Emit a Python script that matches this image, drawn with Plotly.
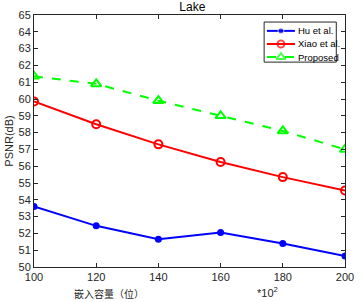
import plotly.graph_objects as go

x_vals = [100, 120, 140, 160, 180, 200]
hu = [53.6, 52.45, 51.65, 52.05, 51.4, 50.65]
xiao = [59.85, 58.5, 57.3, 56.25, 55.35, 54.55]
proposed = [61.35, 60.9, 59.9, 59.0, 58.1, 57.0]
names = ["Hu et al.", "Xiao et al.", "Proposed"]

styles = [
    dict(line=dict(color="#0000ff", width=2),
         marker=dict(symbol="circle", size=7, color="#0000ff")),
    dict(line=dict(color="#ff0000", width=2),
         marker=dict(symbol="circle-open", size=8, color="#ff0000", line=dict(width=2))),
    dict(line=dict(color="#00ff00", width=2, dash="dash"),
         marker=dict(symbol="triangle-up-open", size=9, color="#00ff00", line=dict(width=2))),
]

fig = go.Figure()
for name, ys, st in zip(names, [hu, xiao, proposed], styles):
    fig.add_trace(go.Scatter(x=x_vals, y=ys, name=name, mode="lines+markers",
                             line=st["line"], marker=st["marker"], showlegend=False))

# compact legend drawn on an overlay axis (0..1 scale over the plot area)
box_x = [0.74, 0.972, 0.972, 0.74, 0.74]
box_y = [0.813, 0.813, 0.972, 0.972, 0.813]
fig.add_trace(go.Scatter(x=box_x, y=box_y, mode="lines", xaxis="x2", yaxis="y2",
                         fill="toself", fillcolor="white",
                         line=dict(color="#262626", width=1), showlegend=False,
                         hoverinfo="skip", cliponaxis=False))

leg_x = [0.749, 0.794, 0.839]
leg_rows = [0.937, 0.885, 0.833]
leg_styles = [
    dict(line=dict(color="#0000ff", width=2),
         marker=dict(symbol="circle", size=[0, 6, 0], color="#0000ff")),
    dict(line=dict(color="#ff0000", width=2),
         marker=dict(symbol="circle-open", size=[0, 7, 0], color="#ff0000", line=dict(width=2))),
    dict(line=dict(color="#00ff00", width=2, dash="dash"),
         marker=dict(symbol="triangle-up-open", size=[0, 8, 0], color="#00ff00", line=dict(width=2))),
]
for name, row, st in zip(names, leg_rows, leg_styles):
    fig.add_trace(go.Scatter(x=leg_x, y=[row] * 3, mode="lines+markers", xaxis="x2", yaxis="y2",
                             line=st["line"], marker=st["marker"], showlegend=False, hoverinfo="skip",
                             cliponaxis=False))
    fig.add_annotation(text=name, xref="x2", yref="y2", x=0.843, y=row, xanchor="left",
                       yanchor="middle", showarrow=False,
                       font=dict(family="Arial", size=9.5, color="#000000"))

axis_common = dict(showgrid=False, zeroline=False, ticks="inside", ticklen=4,
                   showline=True, linecolor="#262626", linewidth=1, mirror="ticks",
                   tickcolor="#262626", tickfont=dict(family="Arial", size=11, color="#262626"))
hidden_axis = dict(showgrid=False, zeroline=False, showticklabels=False, showline=False,
                   ticks="", fixedrange=True, autorange=False)

fig.update_layout(
    width=363, height=302,
    margin=dict(l=31, r=9, t=15, b=35),
    paper_bgcolor="white", plot_bgcolor="white",
    title=dict(text="Lake", x=0.53, xanchor="center", y=0.99, yanchor="top",
               font=dict(family="Arial", size=12, color="#000000")),
    xaxis=dict(range=[100, 200], tickvals=x_vals, **axis_common),
    yaxis=dict(range=[50, 65], dtick=1,
               title=dict(text="PSNR(dB)", standoff=2, font=dict(family="Arial", size=11, color="#262626")),
               **axis_common),
    xaxis2=dict(range=[0, 1], overlaying="x", anchor="y", domain=[0, 1], **hidden_axis),
    yaxis2=dict(range=[0, 1], overlaying="y", anchor="x", domain=[0, 1], **hidden_axis),
    showlegend=False,
)
fig.add_annotation(text="嵌入容量（位）", xref="paper", yref="paper", x=0.24, y=-0.107,
                   xanchor="center", yanchor="middle", showarrow=False,
                   font=dict(family="Noto Sans CJK SC", size=10, color="#262626"))
fig.add_annotation(text="*10<sup>2</sup>", xref="paper", yref="paper", x=0.75, y=-0.1,
                   xanchor="center", yanchor="middle", showarrow=False,
                   font=dict(family="Arial", size=11, color="#262626"))

fig.write_html("out.html", config={"displayModeBar": False},
               post_script="document.body.style.margin='0';")
